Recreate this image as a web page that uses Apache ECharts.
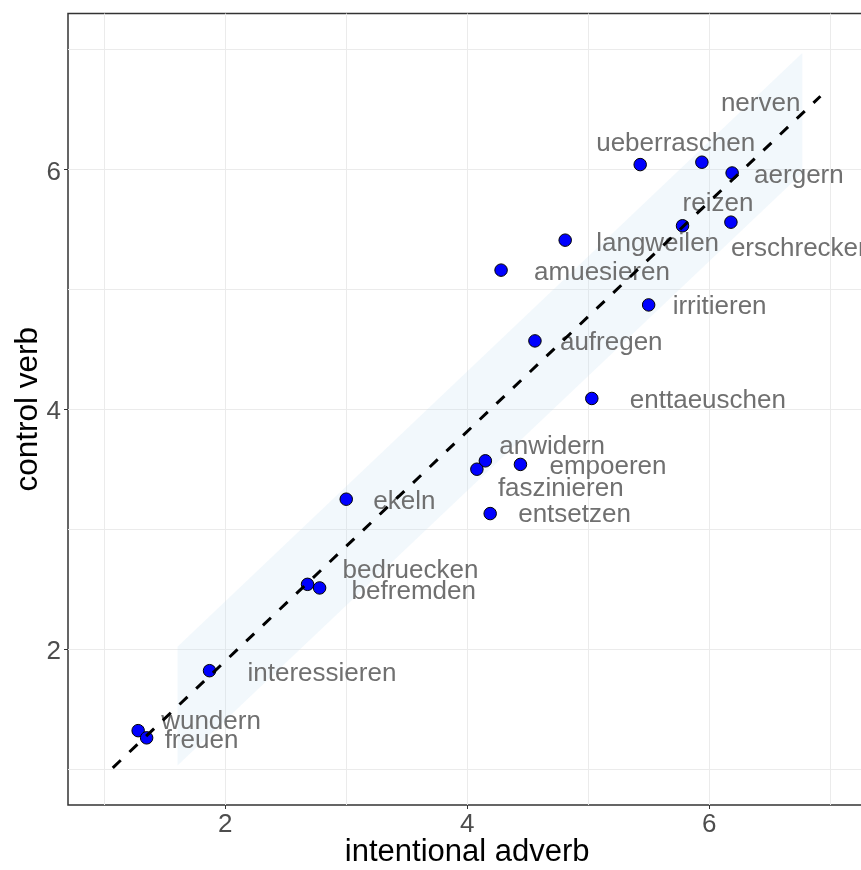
<!DOCTYPE html>
<html>
<head>
<meta charset="utf-8">
<script src="https://cdn.jsdelivr.net/npm/echarts@6/dist/echarts.min.js"></script>
<style>
  html, body { margin: 0; padding: 0; background: #fff; }
  #chart { width: 861px; height: 870px; }
</style>
</head>
<body>
<div id="chart"></div>
<script>
// ---- data ----
const words = ['nerven', 'ueberraschen', 'aergern', 'reizen', 'erschrecken', 'langweilen',
  'amuesieren', 'irritieren', 'aufregen', 'enttaeuschen', 'anwidern', 'faszinieren',
  'empoeren', 'entsetzen', 'ekeln', 'bedruecken', 'befremden', 'interessieren',
  'wundern', 'freuen'];
const adverbValues = [5.94, 5.43, 6.19, 5.78, 6.18, 4.81, 4.28, 5.50, 4.56, 5.03, 4.15, 4.08,
  4.44, 4.19, 3.00, 2.68, 2.78, 1.87, 1.28, 1.35];
const verbValues = [6.06, 6.04, 5.97, 5.53, 5.56, 5.41, 5.16, 4.87, 4.57, 4.09, 3.57, 3.50,
  3.54, 3.13, 3.25, 2.54, 2.51, 1.82, 1.32, 1.26];

// dashed reference line and its band
const lineX = [1.07, 6.92];
const lineY = [1.01, 6.61];
const ribbonX = [1.605, 6.77];
const ribbonLow = [1.03, 5.97];
const ribbonHigh = [2.02, 6.97];

// axis ticks / grid
const tickValues = [2, 4, 6];
const gridValues = [1, 2, 3, 4, 5, 6, 7];

// label placement (pixel offsets from each point, like ggrepel output)
const labelDx = [19, -44, 22, 0, 0, 31, 33, 24, 25, 38, 14, 21, 29, 28, 27, 35, 32, 38, 23, 18];
const labelDy = [-60, -22, 1, -23, 25, 2, 1, 0, 0, 1, -15, 18, 1, 0, 1, -15, 2, 2, -10, 1];

const FONT = "'Liberation Sans', Arial, sans-serif";

const chart = echarts.init(document.getElementById('chart'), null, { renderer: 'canvas' });

const pointData = words.map((w, i) => ({
  name: w,
  value: [adverbValues[i], verbValues[i]],
  label: { offset: [labelDx[i], labelDy[i] + 1.5] }
}));

const option = {
  animation: false,
  backgroundColor: '#ffffff',
  grid: {
    left: 68, top: 13.5, right: -5.4, bottom: 65,
    show: true, borderColor: '#333333', borderWidth: 1.5, backgroundColor: 'transparent',
    outerBoundsMode: 'none', containLabel: false
  },
  xAxis: {
    type: 'value', min: 0.7, max: 7.3,
    name: 'intentional adverb', nameLocation: 'middle', nameGap: 32, nameMoveOverlap: false,
    nameTextStyle: { fontSize: 31, color: '#000000', fontFamily: FONT },
    axisLine: { show: false },
    axisTick: { show: true, customValues: tickValues, length: 4, lineStyle: { color: '#333333', width: 1 } },
    axisLabel: { customValues: tickValues, margin: 7, fontSize: 26, color: '#4d4d4d', fontFamily: FONT },
    splitLine: { show: false }
  },
  yAxis: {
    type: 'value', min: 0.7, max: 7.3,
    name: 'control verb', nameLocation: 'middle', nameGap: 24, nameMoveOverlap: false,
    nameTextStyle: { fontSize: 31.5, color: '#000000', fontFamily: FONT },
    axisLine: { show: false },
    axisTick: { show: true, customValues: tickValues, length: 4, lineStyle: { color: '#333333', width: 1 } },
    axisLabel: { customValues: tickValues, margin: 7, fontSize: 26, color: '#4d4d4d', fontFamily: FONT,
      verticalAlign: 'top', lineHeight: 6 },
    splitLine: { show: false }
  },
  series: [
    {
      type: 'scatter', data: [], z: 0, zlevel: 0, silent: true,
      markLine: {
        silent: true, symbol: ['none', 'none'], animation: false, z: 0, zlevel: 0,
        label: { show: false },
        lineStyle: { color: '#ebebeb', width: 1, type: 'solid' },
        emphasis: { disabled: true },
        data: gridValues.map(v => ({ xAxis: v })).concat(gridValues.map(v => ({ yAxis: v })))
      }
    },
    {
      type: 'custom', z: 1, silent: true,
      data: ribbonX.map((x, i) => [x, ribbonLow[i], ribbonHigh[i]]),
      encode: { x: 0, y: [1, 2] },
      renderItem: function (params, api) {
        if (params.dataIndex !== 0) return null;
        const pts = [];
        for (let i = 0; i < ribbonX.length; i++) pts.push(api.coord([ribbonX[i], ribbonHigh[i]]));
        for (let i = ribbonX.length - 1; i >= 0; i--) pts.push(api.coord([ribbonX[i], ribbonLow[i]]));
        return { type: 'polygon', shape: { points: pts }, style: { fill: 'rgba(190,220,238,0.2)' } };
      }
    },
    {
      type: 'scatter', z: 2,
      data: pointData,
      symbol: 'circle', symbolSize: 12.5,
      itemStyle: { color: '#0000ff', borderColor: '#000000', borderWidth: 1, opacity: 1 },
      label: {
        show: true, formatter: '{b}', position: 'inside', align: 'left', verticalAlign: 'middle',
        fontSize: 26, color: '#707070', fontFamily: FONT, textBorderWidth: 0
      },
      emphasis: { disabled: true }
    },
    {
      type: 'line', z: 5, silent: true,
      data: lineX.map((x, i) => [x, lineY[i]]),
      symbol: 'none',
      lineStyle: { color: '#000000', width: 3, type: [11, 12] }
    }
  ]
};

chart.setOption(option);
</script>
</body>
</html>
